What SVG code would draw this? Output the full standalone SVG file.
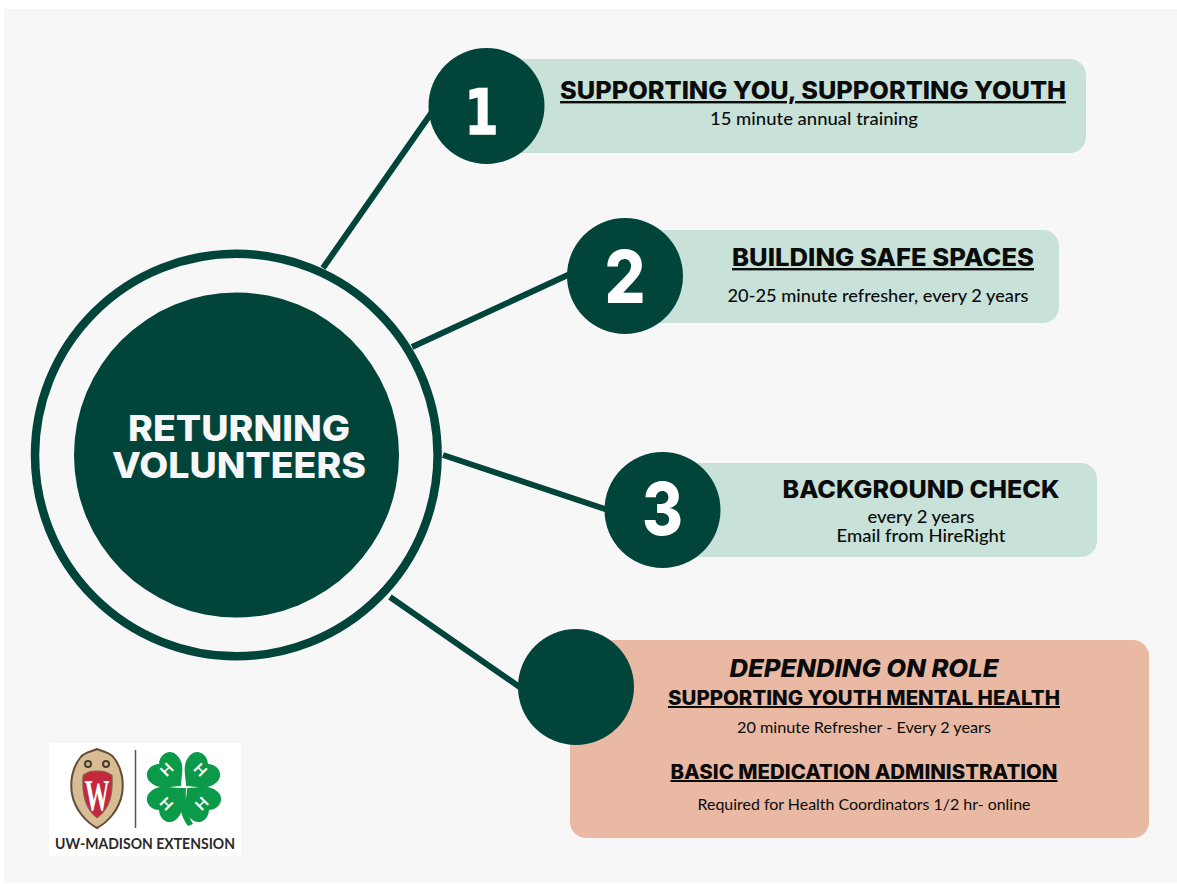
<svg xmlns="http://www.w3.org/2000/svg" width="1177" height="884" viewBox="0 0 1177 884">
<defs>
<path id="lobe" d="M0 0 C-7 -7 -19 -12 -19 -25 C-19 -35 -7 -38 0 -31 C7 -38 19 -35 19 -25 C19 -12 7 -7 0 0Z" fill="#0a9a4a"/>
</defs>
<style>
text{font-family:"Lato","Noto Sans","Liberation Sans",sans-serif;text-anchor:middle;fill:#0b0b0b}
.dark{fill:#01453a}
.mint{fill:#c8e2da}
.num{font-family:"Inter","Noto Sans",sans-serif;font-weight:800;fill:#fff}
.h,.h2,.hb{font-family:"Inter","Lato",sans-serif;font-weight:800}
.h{font-size:24px;text-decoration:underline}
.h2{font-size:20px;text-decoration:underline}
.s{font-size:17px;font-weight:500}
.s2{font-size:16px;font-weight:400}
.conn{stroke:#01453a;stroke-width:6;fill:none}
.hh{font-size:15px;font-weight:700;fill:#fff}
</style>
<rect width="1177" height="884" fill="#fff"/>
<rect x="4" y="9" width="1173" height="874" fill="#f7f7f7"/>
<g id="connectors">
<line class="conn" x1="323" y1="268" x2="432" y2="112"/>
<line class="conn" x1="412" y1="347" x2="570" y2="274"/>
<line class="conn" x1="443" y1="455" x2="608" y2="510"/>
<line class="conn" x1="390" y1="597" x2="521" y2="688"/>
</g>
<g id="center">
<circle cx="236.300" cy="455" r="201.300" fill="none" stroke="#01453a" stroke-width="8.500"/>
<circle class="dark" cx="236.500" cy="455" r="162.500"/>
<text class="hb" font-size="36" style="fill:#f7f7f7"><tspan x="239" y="441" textLength="222" lengthAdjust="spacingAndGlyphs">RETURNING</tspan><tspan x="239" y="478" textLength="254" lengthAdjust="spacingAndGlyphs">VOLUNTEERS</tspan></text>
</g>
<g id="node1">
<rect class="mint" x="490" y="59" width="596" height="94" rx="16"/>
<circle class="dark" cx="486.500" cy="106" r="58"/>
<text x="481.500" y="134" font-size="63" font-weight="700" stroke="#fff" stroke-width="1.500" textLength="34" lengthAdjust="spacingAndGlyphs" style="font-family:'DejaVu Sans',sans-serif;fill:#fff">1</text>
<text class="h" x="813" y="99" textLength="506" lengthAdjust="spacingAndGlyphs">SUPPORTING YOU, SUPPORTING YOUTH</text>
<text class="s" x="814" y="125" textLength="208" lengthAdjust="spacingAndGlyphs">15 minute annual training</text>
</g>
<g id="node2">
<rect class="mint" x="630" y="230" width="429" height="93" rx="16"/>
<circle class="dark" cx="625" cy="276" r="58"/>
<text class="num" x="625" y="303" font-size="73" textLength="41" lengthAdjust="spacingAndGlyphs">2</text>
<text class="h" x="883" y="266" textLength="302" lengthAdjust="spacingAndGlyphs">BUILDING SAFE SPACES</text>
<text class="s" x="878" y="302" textLength="301" lengthAdjust="spacingAndGlyphs">20-25 minute refresher, every 2 years</text>
</g>
<g id="node3">
<rect class="mint" x="665" y="463" width="432" height="94" rx="16"/>
<circle class="dark" cx="662.500" cy="510" r="58"/>
<text class="num" x="662.500" y="535" font-size="73" textLength="41" lengthAdjust="spacingAndGlyphs">3</text>
<text class="hb" x="921" y="498" font-size="24" textLength="277" lengthAdjust="spacingAndGlyphs">BACKGROUND CHECK</text>
<text class="s" x="921" y="523" textLength="107" lengthAdjust="spacingAndGlyphs">every 2 years</text>
<text class="s" x="921" y="542" textLength="169" lengthAdjust="spacingAndGlyphs">Email from HireRight</text>
</g>
<g id="node4">
<rect x="570" y="640" width="579" height="198" rx="16" fill="#e9b9a4"/>
<circle class="dark" cx="576" cy="687" r="58"/>
<text class="hb" x="864" y="677" font-size="24" font-style="italic" textLength="269" lengthAdjust="spacingAndGlyphs">DEPENDING ON ROLE</text>
<text class="h2" x="864" y="705" textLength="392" lengthAdjust="spacingAndGlyphs">SUPPORTING YOUTH MENTAL HEALTH</text>
<text class="s2" x="864" y="733" textLength="254" lengthAdjust="spacingAndGlyphs">20 minute Refresher - Every 2 years</text>
<text class="h2" x="864" y="779" textLength="387" lengthAdjust="spacingAndGlyphs">BASIC MEDICATION ADMINISTRATION</text>
<text class="s2" x="864" y="810" textLength="333" lengthAdjust="spacingAndGlyphs">Required for Health Coordinators 1/2 hr- online</text>
</g>
<g id="logo">
<rect x="49" y="743" width="192" height="113" fill="#fff"/>
<path d="M97 749 C103 752 110 752 114 758 C122 768 124 782 122 794 C119 810 108 822 97 828 C86 822 75 810 72 794 C70 782 72 768 80 758 C84 752 91 752 97 749Z" fill="#d8bd94" stroke="#5f4f3a" stroke-width="2"/>
<path d="M83 775 Q90 770 97 771 Q104 770 112 775 C113 792 111 808 97 818 C84 808 82 792 83 775Z" fill="#c5283d" stroke="#7a6a52" stroke-width="1"/>
<circle cx="88" cy="764" r="3" fill="none" stroke="#4a3d2e" stroke-width="2"/>
<circle cx="106" cy="764" r="3" fill="none" stroke="#4a3d2e" stroke-width="2"/>
<text x="97" y="810" font-size="44" font-weight="700" textLength="25" lengthAdjust="spacingAndGlyphs" style="font-family:'Liberation Serif',serif;fill:#fff">W</text>
<line x1="135.500" y1="750" x2="135.500" y2="828" stroke="#555" stroke-width="1.500"/>
<use href="#lobe" transform="translate(181 786) rotate(-45)"/>
<use href="#lobe" transform="translate(186 786) rotate(45)"/>
<use href="#lobe" transform="translate(181 788) rotate(-135)"/>
<use href="#lobe" transform="translate(187 788) rotate(135)"/>
<path d="M181 788 C178 802 180 816 188 826 L193 824 C187 814 185 802 186 788Z" fill="#0a9a4a"/>
<text class="hh" x="167" y="775" transform="rotate(-45 167 770)">H</text>
<text class="hh" x="200" y="775" transform="rotate(45 200 770)">H</text>
<text class="hh" x="166" y="809" transform="rotate(45 166 804)">H</text>
<text class="hh" x="202" y="809" transform="rotate(-45 202 804)">H</text>
<text x="145" y="849" font-size="14.500" font-weight="700" style="fill:#2b2b2b" textLength="180" lengthAdjust="spacingAndGlyphs">UW-MADISON EXTENSION</text>
</g>
</svg>
